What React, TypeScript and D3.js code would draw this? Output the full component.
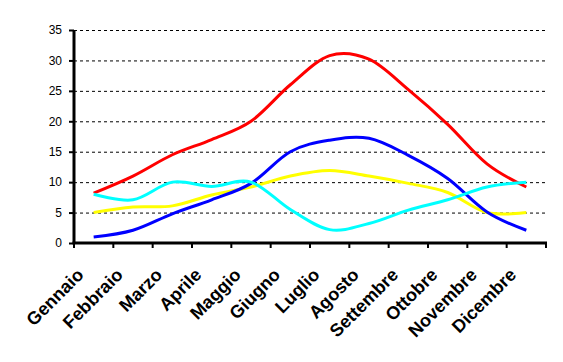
import { useEffect, useRef } from "react";
import * as d3 from "d3";

const months = [
  "Gennaio", "Febbraio", "Marzo", "Aprile", "Maggio", "Giugno",
  "Luglio", "Agosto", "Settembre", "Ottobre", "Novembre", "Dicembre",
];
const yTicks = [0, 5, 10, 15, 20, 25, 30, 35];

const redSeries = [8.2, 11, 14.5, 17, 20, 26, 30.8, 30.2, 25.2, 19.5, 13, 9.2];
const blueSeries = [1, 2.1, 4.8, 7.1, 9.8, 15, 16.9, 17.2, 14.4, 10.6, 5.1, 2.1];
const cyanSeries = [8, 7.1, 10, 9.3, 10, 5.5, 2.2, 3.2, 5.4, 7.1, 9.2, 10];
const yellowSeries = [5, 5.9, 6.1, 7.9, 9.2, 11, 11.9, 11, 9.8, 8.3, 5, 5];

const series = [
  { values: redSeries, color: "#ff0000" },
  { values: yellowSeries, color: "#ffff00" },
  { values: blueSeries, color: "#0000ff" },
  { values: cyanSeries, color: "#00ffff" },
];

export default function App() {
  const ref = useRef<SVGSVGElement>(null);

  useEffect(() => {
    if (!ref.current) return;
    const width = 563;
    const height = 362;
    const margin = { top: 30, left: 74, right: 17, bottom: 119 };
    const innerW = width - margin.left - margin.right;
    const innerH = height - margin.top - margin.bottom;

    const root = d3.select(ref.current);
    root.selectAll("*").remove();
    root.attr("width", width).attr("height", height);

    const g = root.append("g").attr("transform", `translate(${margin.left},${margin.top})`);

    const x = d3.scaleBand<string>().domain(months).range([0, innerW]);
    const y = d3.scaleLinear().domain([0, 35]).range([innerH, 0]);

    // gridlines
    g.selectAll("line.grid")
      .data(yTicks.filter((t) => t > 0))
      .join("line")
      .attr("class", "grid")
      .attr("x1", 0)
      .attr("x2", innerW)
      .attr("y1", (d) => y(d) + 0.5)
      .attr("y2", (d) => y(d) + 0.5)
      .attr("stroke", "#000")
      .attr("stroke-width", 1)
      .attr("stroke-dasharray", "3,3");

    // lines
    const line = d3
      .line<number>()
      .x((_, i) => (x(months[i]) ?? 0) + x.bandwidth() / 2)
      .y((d) => y(d))
      .curve(d3.curveCatmullRom.alpha(0));

    series.forEach((s) => {
      g.append("path")
        .datum(s.values)
        .attr("fill", "none")
        .attr("stroke", s.color)
        .attr("stroke-width", 3)
        .attr("d", line);
    });

    // y axis
    const yAxis = g.append("g").call(
      d3.axisLeft(y).tickValues(yTicks).tickSize(5).tickPadding(7)
    );
    yAxis.select(".domain").remove();
    yAxis.selectAll(".tick line").attr("stroke-width", 2);
    yAxis
      .selectAll("text")
      .attr("font-family", "Liberation Sans, Arial, sans-serif")
      .attr("font-size", 12)
      .attr("fill", "#000");
    g.append("line")
      .attr("x1", 0).attr("x2", 0)
      .attr("y1", 0).attr("y2", innerH)
      .attr("stroke", "#000").attr("stroke-width", 3);

    // x axis
    const ticks = [...months.map((m) => x(m) ?? 0), innerW];
    g.selectAll("line.xt")
      .data(ticks)
      .join("line")
      .attr("class", "xt")
      .attr("x1", (d) => d)
      .attr("x2", (d) => d)
      .attr("y1", innerH)
      .attr("y2", innerH + 5)
      .attr("stroke", "#000")
      .attr("stroke-width", 2);
    g.append("line")
      .attr("x1", -1.5).attr("x2", innerW + 1)
      .attr("y1", innerH).attr("y2", innerH)
      .attr("stroke", "#000").attr("stroke-width", 3);

    g.selectAll("text.xl")
      .data(months)
      .join("text")
      .attr("class", "xl")
      .attr("transform", (d) => {
        const cx = (x(d) ?? 0) + x.bandwidth() / 2 - 9;
        return `translate(${cx},${innerH + 33}) rotate(-45)`;
      })
      .attr("text-anchor", "end")
      .attr("font-family", "Liberation Sans, Arial, sans-serif")
      .attr("font-weight", "bold")
      .attr("font-size", 18)
      .attr("fill", "#000")
      .text((d) => d);
  }, []);

  return (
    <svg
      ref={ref}
      style={{ position: "absolute", left: 0, top: 0, background: "#fff" }}
    />
  );
}
